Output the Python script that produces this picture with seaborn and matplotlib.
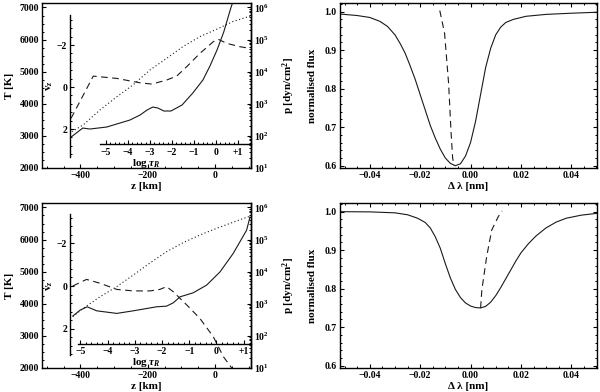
import numpy as np
import matplotlib
matplotlib.use("Agg")
import matplotlib.pyplot as plt
import seaborn as sns
from matplotlib.ticker import MultipleLocator, LogLocator, FixedLocator, FuncFormatter, NullFormatter

# ---- upper left: atmosphere model a ----
z_T_a = [-428, -393, -372, -322, -253, -223, -202, -185, -170, -152, -131, -98, -66, -36, -15, 6, 26, 47, 62]
T_a = [2953, 3234, 3203, 3266, 3484, 3640, 3797, 3890, 3860, 3766, 3766, 3953, 4328, 4734, 5172, 5672, 6234, 6984, 7450]
z_p_a = [-426, -392, -342, -292, -244, -193, -144, -95, -45, 5, 53, 104]
logp_a = [2.12, 2.33, 2.80, 3.21, 3.58, 4.05, 4.41, 4.78, 5.09, 5.32, 5.56, 5.73]
z_v_a = [-428, -362, -292, -223, -188, -144, -114, -84, -45, -5, 10, 35, 74, 104]
v_a = [1.49, -0.52, -0.41, -0.2, -0.14, -0.33, -0.52, -0.97, -1.6, -2.16, -2.27, -2.08, -1.92, -1.84]

# ---- lower left: atmosphere model b ----
z_T_b = [-423, -401, -380, -352, -292, -243, -174, -144, -124, -104, -65, -25, 15, 54, 94, 104]
T_b = [3607, 3794, 3897, 3772, 3691, 3772, 3897, 3918, 4022, 4209, 4334, 4574, 4989, 5563, 6290, 6705]
z_p_b = [-423, -392, -342, -292, -243, -193, -144, -95, -45, 5, 54, 104]
logp_b = [2.59, 2.85, 3.21, 3.53, 3.89, 4.27, 4.62, 4.90, 5.14, 5.35, 5.54, 5.73]
z_v_b = [-423, -382, -342, -292, -243, -193, -164, -144, -124, -84, -45, -5, 25, 54, 75]
v_b = [0.0, -0.31, -0.13, 0.16, 0.23, 0.23, 0.16, 0.03, 0.27, 0.89, 1.52, 2.38, 3.32, 3.94, 4.5]

# ---- right: line profiles and bisectors ----
dl_a = [-0.052, -0.045, -0.040, -0.036, -0.033, -0.030, -0.028, -0.026, -0.024, -0.022, -0.020,
        -0.018, -0.016, -0.014, -0.012, -0.010, -0.008, -0.006, -0.004, -0.002, 0.000, 0.002,
        0.004, 0.006, 0.008, 0.010, 0.012, 0.014, 0.017, 0.022, 0.030, 0.040, 0.052]
flux_a = [0.994, 0.990, 0.985, 0.975, 0.962, 0.940, 0.918, 0.893, 0.860, 0.825, 0.785,
          0.745, 0.705, 0.672, 0.643, 0.620, 0.606, 0.600, 0.605, 0.625, 0.660, 0.715,
          0.785, 0.855, 0.905, 0.940, 0.960, 0.972, 0.980, 0.988, 0.993, 0.996, 0.999]
bis_dl_a = [-0.0122, -0.0103, -0.0087, -0.0077, -0.0071, -0.0065]
bis_f_a = [1.003, 0.944, 0.814, 0.684, 0.620, 0.600]

dl_b = [-0.052, -0.040, -0.030, -0.025, -0.021, -0.018, -0.016, -0.014, -0.012, -0.010, -0.008,
        -0.006, -0.004, -0.002, 0.000, 0.002, 0.004, 0.006, 0.008, 0.010, 0.012, 0.014, 0.016,
        0.018, 0.020, 0.023, 0.026, 0.030, 0.034, 0.038, 0.044, 0.052]
flux_b = [1.0, 0.9995, 0.997, 0.992, 0.983, 0.972, 0.958, 0.935, 0.905, 0.865, 0.828,
          0.798, 0.777, 0.763, 0.755, 0.751, 0.750, 0.754, 0.765, 0.782, 0.803, 0.826, 0.849,
          0.872, 0.893, 0.917, 0.937, 0.958, 0.973, 0.983, 0.991, 0.997]
bis_dl_b = [0.004, 0.0045, 0.0064, 0.0084, 0.011, 0.0125]
bis_f_b = [0.75, 0.797, 0.883, 0.952, 0.987, 1.002]

sns.set_theme(style="ticks")
plt.rcParams.update({
    "font.family": ["Liberation Serif", "DejaVu Serif"],
    "font.weight": "bold",
    "axes.labelweight": "bold",
    "font.size": 7,
    "axes.labelsize": 8,
    "xtick.labelsize": 7,
    "ytick.labelsize": 7,
    "mathtext.fontset": "custom",
    "mathtext.rm": "Liberation Serif:bold",
    "mathtext.it": "Liberation Serif:bold:italic",
    "mathtext.bf": "Liberation Serif:bold",
    "axes.edgecolor": "black",
    "axes.labelcolor": "black",
    "text.color": "black",
    "xtick.color": "black",
    "ytick.color": "black",
    "axes.linewidth": 1.0,
    "xtick.direction": "in",
    "ytick.direction": "in",
    "xtick.major.size": 3,
    "ytick.major.size": 3,
    "xtick.minor.size": 1.6,
    "ytick.minor.size": 1.6,
    "xtick.major.width": 0.8,
    "ytick.major.width": 0.8,
    "xtick.minor.width": 0.7,
    "ytick.minor.width": 0.7,
    "xtick.major.pad": 2.5,
    "ytick.major.pad": 2.5,
})

fig = plt.figure(figsize=(6, 3.92), dpi=100)
LW = 0.8


def tau_fmt(v, pos):
    if abs(v - 1) < 1e-6:
        return "+1"
    return f"{int(round(v))}".replace("-", "\u2212")


def atmos_panel(rect, zT, T, zp, logp, zv, v, tau_lim, tau_start, tau_y, v_lim, v_bounds):
    ax = fig.add_axes(rect)
    sns.lineplot(x=zT, y=T, ax=ax, color="k", lw=LW, sort=False, estimator=None)
    ax.set_xlim(-513, 107)
    ax.set_ylim(1985, 7140)
    ax.xaxis.set_major_locator(MultipleLocator(200))
    ax.xaxis.set_minor_locator(MultipleLocator(50))
    ax.yaxis.set_major_locator(MultipleLocator(1000))
    ax.yaxis.set_minor_locator(MultipleLocator(250))
    ax.tick_params(which="both", top=True, right=False)
    ax.set_xlabel("z [km]", labelpad=1)
    ax.set_ylabel("T [K]", labelpad=4)

    # pressure on the right
    axp = ax.twinx()
    sns.lineplot(x=zp, y=10 ** np.array(logp), ax=axp, color="k", lw=LW,
                 linestyle=(0, (1, 2.2)), sort=False, estimator=None)
    axp.set_yscale("log")
    axp.set_ylim(10 ** 0.985, 10 ** 6.14)
    axp.yaxis.set_major_locator(LogLocator(base=10))
    axp.yaxis.set_minor_locator(LogLocator(base=10, subs=np.arange(2, 10)))
    axp.yaxis.set_minor_formatter(NullFormatter())
    axp.set_ylabel("p [dyn/cm$^2$]", labelpad=8)
    for s in ["left", "top", "bottom"]:
        axp.spines[s].set_visible(False)

    # velocity inset axis
    axv = ax.twinx()
    sns.lineplot(x=zv, y=v, ax=axv, color="k", lw=LW,
                 linestyle=(0, (6, 4)), sort=False, estimator=None)
    axv.set_ylim(*v_lim)
    for s in ["right", "top", "bottom"]:
        axv.spines[s].set_visible(False)
    axv.spines["left"].set_visible(True)
    axv.spines["left"].set_position(("axes", 0.1343))
    axv.spines["left"].set_bounds(*v_bounds)
    axv.yaxis.set_ticks_position("left")
    axv.yaxis.set_label_position("left")
    axv.yaxis.set_major_locator(FixedLocator([-2, 0, 2]))
    axv.yaxis.set_minor_locator(FixedLocator(np.arange(-3.2, 3.3, 0.4)))
    axv.yaxis.set_major_formatter(FuncFormatter(lambda t, p: f"{int(t)}".replace("-", "\u2212")))
    axv.set_ylabel("v$_z$", labelpad=1)
    axv.patch.set_visible(False)

    # optical depth inset axis
    axt = ax.twiny()
    axt.set_xlim(*tau_lim)
    for s in ["left", "right", "top"]:
        axt.spines[s].set_visible(False)
    axt.spines["bottom"].set_visible(True)
    axt.spines["bottom"].set_position(("axes", tau_y))
    axt.spines["bottom"].set_bounds(tau_start, tau_lim[1])
    axt.xaxis.set_ticks_position("bottom")
    axt.xaxis.set_label_position("bottom")
    axt.xaxis.set_major_locator(FixedLocator([-5, -4, -3, -2, -1, 0, 1]))
    axt.xaxis.set_minor_locator(FixedLocator(np.arange(-5.0, 1.2, 0.2)))
    axt.xaxis.set_major_formatter(FuncFormatter(tau_fmt))
    axt.set_xlabel("log $\\tau_R$", labelpad=0)
    axt.patch.set_visible(False)
    return ax


def profile_panel(rect, dl, flux, bdl, bf):
    ax = fig.add_axes(rect)
    sns.lineplot(x=dl, y=flux, ax=ax, color="k", lw=LW, sort=False, estimator=None)
    sns.lineplot(x=bdl, y=bf, ax=ax, color="k", lw=LW, linestyle=(0, (6, 4)),
                 sort=False, estimator=None)
    ax.set_xlim(-0.0518, 0.0502)
    ax.set_ylim(0.594, 1.0225)
    ax.xaxis.set_major_locator(MultipleLocator(0.02))
    ax.xaxis.set_minor_locator(MultipleLocator(0.005))
    ax.yaxis.set_major_locator(MultipleLocator(0.1))
    ax.yaxis.set_minor_locator(MultipleLocator(0.02))
    ax.tick_params(which="both", top=True, right=True)
    ax.set_xlabel("\u0394 \u03bb [nm]", labelpad=1)
    ax.set_ylabel("normalised flux", labelpad=5)
    return ax


atmos_panel([0.0708, 0.5714, 0.3475, 0.4209], z_T_a, T_a, z_p_a, logp_a, z_v_a, v_a,
            tau_lim=(-7.886, 1.591), tau_start=-5.27, tau_y=0.1436,
            v_lim=(3.857, -4.0), v_bounds=(-3.43, 3.33))
atmos_panel([0.0708, 0.0612, 0.3475, 0.4209], z_T_b, T_b, z_p_b, logp_b, z_v_b, v_b,
            tau_lim=(-6.397, 1.268), tau_start=-5.094, tau_y=0.1485,
            v_lim=(3.85, -3.897), v_bounds=(-3.38, 3.24))
profile_panel([0.5667, 0.5714, 0.4283, 0.4209], dl_a, flux_a, bis_dl_a, bis_f_a)
profile_panel([0.5667, 0.0612, 0.4283, 0.4209], dl_b, flux_b, bis_dl_b, bis_f_b)

fig.savefig("out.png", dpi=100)
